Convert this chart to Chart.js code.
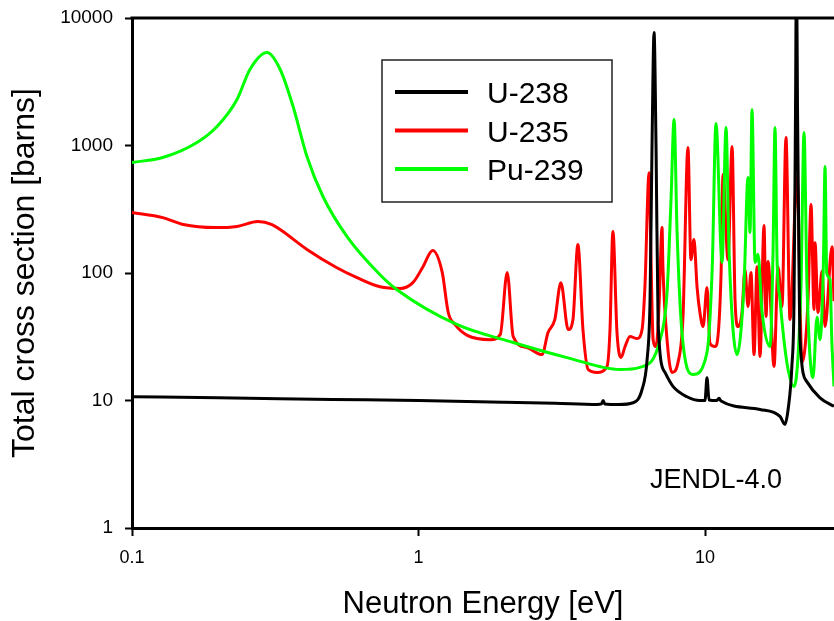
<!DOCTYPE html>
<html>
<head>
<meta charset="utf-8">
<script src="https://cdn.jsdelivr.net/npm/chart.js@4.4.1/dist/chart.umd.min.js"></script>
<style>
  html, body { margin: 0; padding: 0; background: #fff; }
  #wrap { width: 834px; height: 621px; }
</style>
</head>
<body>
<div id="wrap"><canvas id="xsChart" width="834" height="621"></canvas></div>
<script>
// axis ticks
const energyTicks = [0.1, 1, 10];
const sigmaTicks = [1, 10, 100, 1000, 10000];

const seriesNames = ["U-238", "U-235", "Pu-239"];
const seriesColors = ["#000000", "#ff0000", "#00ff00"];

// U-238 total cross section (eV, barns)
const u238E = [0.1, 0.2, 0.5, 1.0, 2.0, 3.0, 4.2, 4.35, 4.41, 4.47, 5.0, 5.61, 6.03, 6.28, 6.43, 6.53, 6.64, 6.75, 6.86, 7.25,
  7.73, 8.65, 9.6, 10.0, 10.16, 10.33, 11.0, 11.19, 11.38, 15.56, 18.27, 19.0, 19.5, 20.1, 20.45, 20.7, 20.86, 21.03, 21.3, 21.46,
  22.7, 25.2, 28.2];
const u238S = [10.7, 10.5, 10.2, 10.0, 9.7, 9.5, 9.3, 9.4, 10.0, 9.4, 9.3, 9.6, 12.2, 21.0, 62, 930, 7700, 900, 40, 16.6,
  12.9, 10.7, 10.0, 10.0, 15.1, 10.1, 10.0, 10.4, 9.9, 8.5, 7.5, 6.5, 8.5, 18.5, 60, 2000, 30000, 2000, 100, 30,
  14, 10.5, 9.0];

// U-235
const u235E = [0.1, 0.128, 0.151, 0.195, 0.2326, 0.275, 0.308, 0.329, 0.408, 0.519, 0.61, 0.734, 0.862, 0.956, 1.037, 1.12, 1.21, 1.27, 1.34, 1.48,
  1.78, 1.93, 2.04, 2.14, 2.39, 2.70, 2.83, 2.99, 3.14, 3.33, 3.46, 3.60, 3.75, 3.91, 4.20, 4.55, 4.66, 4.77, 4.93, 5.09,
  5.26, 5.47, 5.79, 6.03, 6.17, 6.38, 6.48, 6.59, 6.75, 6.91, 7.08, 7.13, 7.37, 7.67, 8.05, 8.38, 8.72, 8.93, 9.15, 9.38,
  9.6, 9.85, 10.16, 10.41, 10.84, 11.01, 11.38, 11.56, 12.03, 12.43, 12.73, 13.04, 13.46, 13.79, 14.13, 14.47, 14.83, 15.19, 15.56, 16.07,
  16.33, 16.60, 17.42, 17.98, 18.57, 19.17, 19.80, 20.95, 21.81, 22.88, 23.44, 24.02, 24.21, 24.80, 25.61, 26.24, 27.76, 28.2];
const u235S = [298, 272, 240, 227, 232, 253, 240, 219, 153, 110, 92, 78, 75.6, 84, 112, 150, 101, 49, 39.5, 32.4,
  30, 33, 101, 31.8, 26, 22.9, 34, 43, 84, 36, 43, 167, 36, 17.5, 16.6, 18.5, 36, 212, 34, 21.7,
  26.5, 31.8, 30.6, 36, 78, 610, 127, 30, 26.5, 54.6, 227, 112, 30, 16.6, 19.9, 45.6, 964, 127, 183, 78,
  49, 38, 77, 28, 26.5, 28, 100, 592, 127, 982, 62, 38, 49, 106, 54.6, 101, 22.9, 112, 22.1, 236,
  45.6, 123, 18.5, 112, 54.6, 1156, 43.2, 571, 19.9, 60, 344, 51.7, 173, 49, 103, 38, 161, 60];

// Pu-239
const pu239E = [0.1, 0.128, 0.1686, 0.198, 0.2326, 0.258, 0.296, 0.329, 0.365, 0.408, 0.464, 0.563, 0.734, 0.841, 1.36, 2.14, 3.30, 5.05, 5.93, 6.97,
  7.37, 7.61, 7.80, 7.99, 8.31, 9.08, 10.16, 10.6, 10.92, 11.47, 11.84, 12.13, 12.93, 13.68, 14.13, 14.36, 14.59, 14.95, 15.31, 15.81,
  16.87, 17.28, 17.55, 17.84, 18.27, 19.3, 20.45, 21.63, 22.16, 22.7, 23.82, 24.6, 25.2, 25.9, 26.24, 26.6, 27.32, 27.7, 28.2];
const pu239S = [736, 805, 1056, 1409, 2297, 3947, 5356, 3947, 2023, 820, 398, 193, 97, 74, 39.5, 28.5, 21.7, 17.5, 18.2, 30,
  70, 377, 1600, 207, 34, 16.0, 23.8, 112, 1488, 121, 1384, 150, 22.9, 80, 561, 208, 1915, 121, 140, 50,
  26.5, 150, 1384, 130, 62, 20, 12.9, 80, 1265, 80, 15.1, 45, 30, 120, 684, 100, 89, 30, 12.9];

const FONT = "'Liberation Sans', Arial, sans-serif";

function toPoints(xs, ys) {
  return xs.map((x, i) => ({ x: x, y: ys[i] }));
}

const seriesData = [toPoints(u238E, u238S), toPoints(u235E, u235S), toPoints(pu239E, pu239S)];
const drawOrder = [0, 2, 1]; // black on top, green above red

const decorations = {
  id: "decorations",
  afterDatasetsDraw(chart) {
    const { ctx, chartArea } = chart;
    ctx.save();
    // top frame
    ctx.strokeStyle = "#000";
    ctx.lineWidth = 3;
    ctx.beginPath();
    ctx.moveTo(chartArea.left - 1.5, chartArea.top);
    ctx.lineTo(chartArea.right, chartArea.top);
    ctx.stroke();

    // legend box
    ctx.fillStyle = "#fff";
    ctx.fillRect(382, 60, 230, 142);
    ctx.strokeStyle = "#222";
    ctx.lineWidth = 1.5;
    ctx.strokeRect(382, 60, 230, 142);
    ctx.font = "30px " + FONT;
    ctx.textBaseline = "alphabetic";
    ctx.textAlign = "left";
    chart.data.datasets.forEach((ds, i) => {
      const y = 92 + i * 38.5;
      ctx.strokeStyle = ds.borderColor;
      ctx.lineWidth = 4;
      ctx.beginPath();
      ctx.moveTo(395, y);
      ctx.lineTo(468, y);
      ctx.stroke();
      ctx.fillStyle = "#000";
      ctx.fillText(ds.label, 487, y + 11);
    });

    // data library note
    ctx.font = "27px " + FONT;
    ctx.fillStyle = "#000";
    ctx.fillText("JENDL-4.0", 650, 488);
    ctx.restore();
  }
};

new Chart(document.getElementById("xsChart").getContext("2d"), {
  type: "line",
  data: {
    datasets: seriesData.map((pts, i) => ({
      label: seriesNames[i],
      data: pts,
      borderColor: seriesColors[i],
      backgroundColor: seriesColors[i],
      borderWidth: 3,
      pointRadius: 0,
      cubicInterpolationMode: "monotone",
      fill: false,
      order: drawOrder[i]
    }))
  },
  options: {
    responsive: false,
    animation: false,
    layout: { padding: { top: 18, right: 0, left: 0, bottom: 0 } },
    plugins: {
      legend: { display: false },
      tooltip: { enabled: false }
    },
    scales: {
      x: {
        type: "logarithmic",
        min: 0.1,
        max: 28.2,
        afterFit: (scale) => {
          scale.height = 93;
          scale.paddingLeft = 0;
          scale.paddingRight = 0;
        },
        afterBuildTicks: (scale) => { scale.ticks = energyTicks.map(v => ({ value: v })); },
        grid: { drawOnChartArea: false, drawTicks: true, tickLength: 8, tickWidth: 2, tickColor: "#000" },
        border: { display: true, color: "#000", width: 3 },
        ticks: {
          color: "#000",
          font: { family: FONT, size: 18 },
          padding: 11,
          maxRotation: 0,
          autoSkip: false,
          callback: (v) => String(v)
        },
        title: {
          display: true,
          text: "Neutron Energy [eV]",
          color: "#000",
          font: { family: FONT, size: 31, lineHeight: 1 },
          padding: { top: 0, bottom: 1.5 }
        }
      },
      y: {
        type: "logarithmic",
        min: 1,
        max: 10000,
        afterFit: (scale) => {
          scale.width = 132;
          scale.paddingTop = 0;
          scale.paddingBottom = 0;
        },
        afterBuildTicks: (scale) => { scale.ticks = sigmaTicks.map(v => ({ value: v })); },
        grid: { drawOnChartArea: false, drawTicks: true, tickLength: 7, tickWidth: 2, tickColor: "#000" },
        border: { display: true, color: "#000", width: 3 },
        ticks: {
          color: "#000",
          font: { family: FONT, size: 19 },
          padding: 12,
          autoSkip: false,
          callback: (v) => String(v)
        },
        title: {
          display: true,
          text: "Total cross section [barns]",
          color: "#000",
          font: { family: FONT, size: 32, lineHeight: 1 },
          padding: { top: 9, bottom: 0 }
        }
      }
    }
  },
  plugins: [decorations]
});
</script>
</body>
</html>
